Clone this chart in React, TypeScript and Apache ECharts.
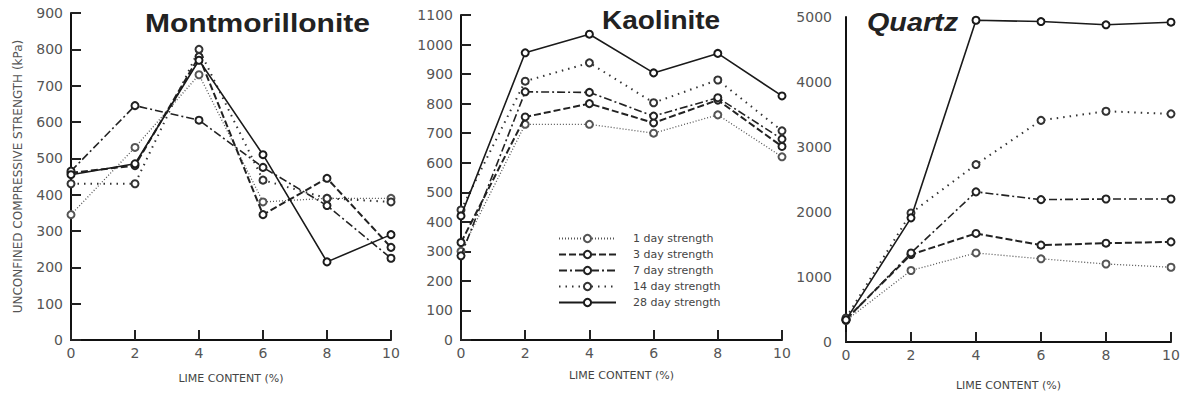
import React, { useEffect, useRef } from "react";
import * as echarts from "echarts";

const limeContent = [0, 2, 4, 6, 8, 10];
const seriesNames = ["1 day strength", "3 day strength", "7 day strength", "14 day strength", "28 day strength"];
const panelTitles = ["Montmorillonite", "Kaolinite", "Quartz"];
const xTitle = "LIME CONTENT (%)";
const yTitle = "UNCONFINED COMPRESSIVE STRENGTH (kPa)";

// Montmorillonite (kPa)
const montDay1 = [345, 530, 730, 380, 390, 390];
const montDay3 = [460, 480, 780, 345, 445, 255];
const montDay7 = [465, 645, 605, 475, 370, 225];
const montDay14 = [430, 430, 800, 440, 390, 380];
const montDay28 = [455, 485, 770, 510, 215, 290];

// Kaolinite (kPa)
const kaolDay1 = [300, 730, 730, 700, 762, 620];
const kaolDay3 = [330, 755, 800, 735, 812, 655];
const kaolDay7 = [285, 840, 838, 758, 820, 680];
const kaolDay14 = [440, 876, 938, 803, 880, 708];
const kaolDay28 = [420, 972, 1035, 904, 970, 826];

// Quartz (kPa)
const quartzDay1 = [330, 1100, 1370, 1280, 1200, 1150];
const quartzDay3 = [350, 1345, 1670, 1490, 1520, 1540];
const quartzDay7 = [340, 1370, 2310, 2190, 2200, 2200];
const quartzDay14 = [370, 1985, 2730, 3410, 3550, 3510];
const quartzDay28 = [340, 1910, 4950, 4930, 4880, 4920];

const panels = [
  [montDay1, montDay3, montDay7, montDay14, montDay28],
  [kaolDay1, kaolDay3, kaolDay7, kaolDay14, kaolDay28],
  [quartzDay1, quartzDay3, quartzDay7, quartzDay14, quartzDay28],
];
const yMax = [900, 1100, 5000];
const yStep = [100, 100, 1000];

const lineTypes: any[] = [[1, 2], [7, 3], [8, 3, 2, 3], [1.5, 5], "solid"];
const lineWidths = [1.3, 2, 1.6, 2, 1.6];
const lineColors = ["#555", "#222", "#222", "#333", "#1a1a1a"];

const grids = [
  { left: 71, top: 13, width: 320, height: 327 },
  { left: 461, top: 15, width: 321, height: 325 },
  { left: 846, top: 17, width: 325, height: 325 },
];
const xNameGaps = [33, 30, 38];

const labelFont = "DejaVu Sans";

export default function App() {
  const ref = useRef<HTMLDivElement>(null);
  useEffect(() => {
    if (!ref.current) return;
    const chart = echarts.init(ref.current, undefined, { renderer: "svg" });

    const tick = (show: boolean) => ({
      show,
      inside: true,
      length: 10,
      lineStyle: { color: "#222222", width: 2 },
    });

    const xAxis = grids.map((_, p) => ({
      type: "value",
      gridIndex: p,
      position: "bottom",
      min: 0,
      max: 10,
      interval: 2,
      name: xTitle,
      nameLocation: "middle",
      nameGap: xNameGaps[p],
      nameTextStyle: { fontFamily: labelFont, fontSize: 11, color: "#444" },
      axisLine: { show: true, onZero: false, lineStyle: { color: "#111", width: 2 } },
      axisTick: tick(true),
      axisLabel: {
        show: true,
        fontFamily: labelFont,
        fontSize: 14,
        color: "#555",
        margin: 6,
        formatter: (v: number) => String(v),
      },
      splitLine: { show: false },
    }));

    const yAxis = grids.map((_, p) => ({
      type: "value",
      gridIndex: p,
      position: "left",
      min: 0,
      max: yMax[p],
      interval: yStep[p],
      name: p === 0 ? yTitle : "",
      nameLocation: "middle",
      nameGap: 47,
      nameRotate: 90,
      nameTextStyle: { fontFamily: labelFont, fontSize: 12, color: "#555" },
      axisLine: { show: true, onZero: false, lineStyle: { color: "#111", width: 2 } },
      axisTick: tick(p !== 2),
      axisLabel: {
        show: true,
        fontFamily: labelFont,
        fontSize: 14,
        color: "#555",
        margin: p === 2 ? 14 : 8,
        formatter: (v: number) => String(v),
      },
      splitLine: { show: false },
    }));

    const series: any[] = [];
    panels.forEach((panel, p) => {
      panel.forEach((vals, s) => {
        series.push({
          type: "line",
          name: seriesNames[s],
          xAxisIndex: p,
          yAxisIndex: p,
          data: limeContent.map((x, i) => [x, vals[i]]),
          symbol: "emptyCircle",
          symbolSize: 7,
          lineStyle: { color: lineColors[s], width: lineWidths[s], type: lineTypes[s] },
          itemStyle: { color: lineColors[s], borderColor: lineColors[s], borderWidth: 1.5 },
          z: 2 + s,
        });
      });
    });

    const titleStyle = (text: string, italic: boolean) => ({
      text,
      font: `${italic ? "italic " : ""}bold 25px "Liberation Sans", Arial, sans-serif`,
      fill: "#222",
      textAlign: "left",
      textVerticalAlign: "middle",
    });

    chart.setOption({
      animation: false,
      backgroundColor: "#fff",
      grid: grids,
      xAxis,
      yAxis,
      series,
      legend: {
        data: seriesNames,
        orient: "vertical",
        left: 553,
        top: 228,
        itemWidth: 57,
        itemHeight: 9,
        itemGap: 5,
        selectedMode: false,
        textStyle: { fontFamily: labelFont, fontSize: 11, color: "#444", padding: [0, 0, 0, 12] },
      },
      graphic: [
        { type: "text", x: 145, y: 23, scaleX: 1.2, style: titleStyle(panelTitles[0], false) },
        { type: "text", x: 602, y: 21, scaleX: 1.12, style: titleStyle(panelTitles[1], false) },
        { type: "text", x: 867, y: 23, scaleX: 1.15, style: titleStyle(panelTitles[2], true) },
      ],
    });

    return () => chart.dispose();
  }, []);

  return (
    <div
      ref={ref}
      style={{ position: "fixed", left: 0, top: 0, width: 1185, height: 400, background: "#fff" }}
    />
  );
}
